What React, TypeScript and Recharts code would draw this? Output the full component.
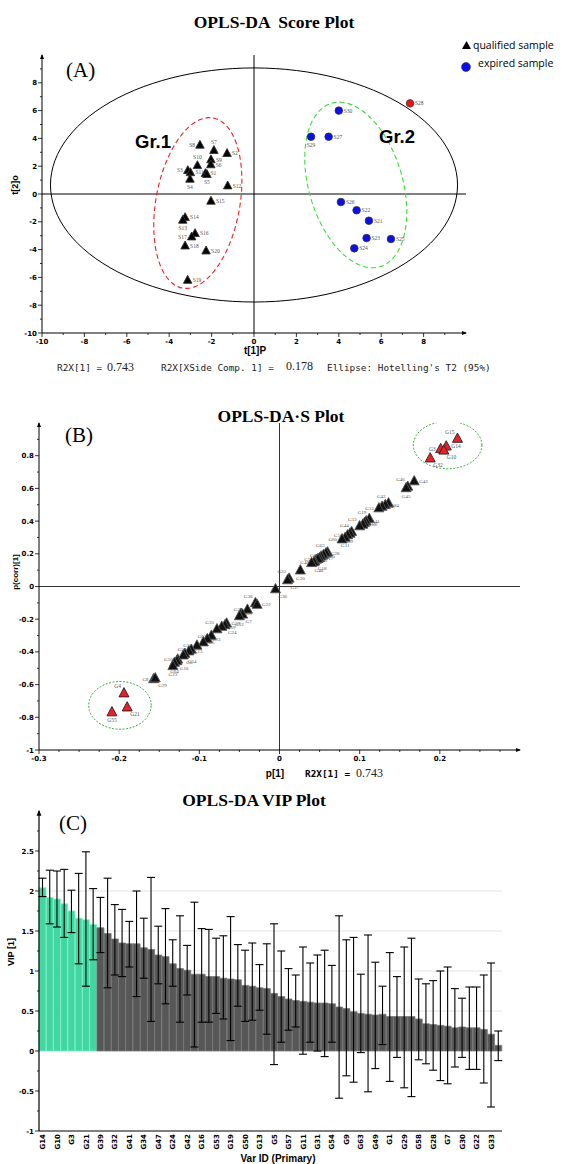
import React from "react";
import {
  ScatterChart,
  Scatter,
  XAxis,
  YAxis,
  ReferenceLine,
  BarChart,
  Bar,
  Cell,
  ErrorBar,
  CartesianGrid,
} from "recharts";

const W = 566;
const H = 1164;
const SERIF = "'Liberation Serif', 'Times New Roman', serif";
const SANS = "'Liberation Sans', Arial, sans-serif";
const TICKF = "'DejaVu Sans', sans-serif";
const MONO = "'DejaVu Sans Mono', monospace";

// ---------- (A) score plot ----------
const qualNames = ["S8", "S7", "S2", "S10", "S9", "S6", "S1", "S3", "S11", "S4", "S5", "S12", "S15", "S14", "S13", "S16", "S17", "S18", "S20", "S19"];
const qualT1 = [-2.55, -1.89, -1.27, -2.67, -2.03, -2.04, -2.29, -3.12, -3.0, -3.02, -2.22, -1.24, -2.03, -3.25, -3.36, -2.78, -2.94, -3.25, -2.26, -3.13];
const qualT2 = [3.53, 3.15, 2.93, 2.06, 2.48, 2.12, 1.49, 1.7, 1.55, 1.08, 1.42, 0.6, -0.5, -1.68, -1.87, -2.83, -3.07, -3.72, -4.08, -6.19];

const expNames = ["S30", "S29", "S27", "S26", "S22", "S21", "S23", "S25", "S24"];
const expT1 = [4.0, 2.69, 3.52, 4.1, 4.84, 5.42, 5.31, 6.46, 4.73];
const expT2 = [6.0, 4.12, 4.12, -0.58, -1.17, -1.92, -3.17, -3.24, -3.91];

const outNames = ["S28"];
const outT1 = [7.36];
const outT2 = [6.52];

const aTicksX = [-10, -9, -8, -7, -6, -5, -4, -3, -2, -1, 0, 1, 2, 3, 4, 5, 6, 7, 8, 9];
const aTicksY = [-10, -9, -8, -7, -6, -5, -4, -3, -2, -1, 0, 1, 2, 3, 4, 5, 6, 7, 8, 9];

// ellipses: centre, first and second semi-axis vectors (data units)
type Ell = { c: [number, number]; a: [number, number]; b: [number, number] };
const hotelling: Ell = { c: [0, 0.65], a: [9.6, 0], b: [0, 8.42] };
const gr1: Ell = { c: [-2.65, -0.65], a: [0.72, 6.12], b: [1.95, -0.53] };
const gr2: Ell = { c: [4.8, 0.65], a: [-1.14, 5.88], b: [2.12, 0.96] };

// ---------- (B) S-plot ----------
const bRedNames = ["G15", "G14", "G3", "G10", "G32", "G4", "G21", "G55"];
const bRedX = [0.222, 0.208, 0.201, 0.205, 0.188, -0.194, -0.19, -0.209];
const bRedY = [0.905, 0.858, 0.842, 0.833, 0.785, -0.652, -0.738, -0.768];

const bNames = ["G43", "G46", "G45", "G42", "G34", "G47", "G51", "G19", "G41", "G37", "G53", "G12", "G44", "G9", "G56", "G11", "G60", "G63", "G28", "G62", "G20", "G17", "G2", "G58", "G18", "G49", "G48", "G30", "G33", "G27", "G36", "G38", "G22", "G26", "G1", "G7", "G52", "G39", "G24", "G59", "G35", "G61", "G31", "G5", "G57", "G25", "G13", "G54", "G6", "G50", "G16", "G64", "G23", "G8", "G29"];
const bX = [0.168, 0.16, 0.158, 0.136, 0.132, 0.128, 0.124, 0.112, 0.108, 0.106, 0.104, 0.1, 0.09, 0.088, 0.085, 0.082, 0.078, 0.06, 0.058, 0.055, 0.052, 0.05, 0.046, 0.048, 0.044, 0.043, 0.04, 0.026, 0.012, 0.01, -0.005, -0.03, -0.028, -0.04, -0.048, -0.046, -0.05, -0.066, -0.068, -0.072, -0.078, -0.085, -0.09, -0.095, -0.103, -0.11, -0.113, -0.118, -0.12, -0.127, -0.128, -0.131, -0.133, -0.157, -0.155];
const bY = [0.645, 0.612, 0.603, 0.51, 0.5, 0.49, 0.48, 0.415, 0.4, 0.39, 0.38, 0.37, 0.335, 0.325, 0.315, 0.3, 0.29, 0.21, 0.205, 0.195, 0.185, 0.175, 0.165, 0.17, 0.155, 0.15, 0.145, 0.1, 0.05, 0.04, -0.015, -0.1, -0.11, -0.14, -0.165, -0.17, -0.18, -0.225, -0.235, -0.245, -0.26, -0.3, -0.32, -0.34, -0.36, -0.385, -0.395, -0.41, -0.42, -0.445, -0.455, -0.465, -0.485, -0.565, -0.56];

const bTicksX = [-0.3, -0.275, -0.25, -0.225, -0.2, -0.175, -0.15, -0.125, -0.1, -0.075, -0.05, -0.025, 0, 0.025, 0.05, 0.075, 0.1, 0.125, 0.15, 0.175, 0.2, 0.225, 0.25, 0.275];
const bTicksY = [-1, -0.9, -0.8, -0.7, -0.6, -0.5, -0.4, -0.3, -0.2, -0.1, 0, 0.1, 0.2, 0.3, 0.4, 0.5, 0.6, 0.7, 0.8, 0.9];

const bTop: Ell = { c: [0.2097, 0.865], a: [0.0428, 0], b: [0, 0.145] };
const bBottom: Ell = { c: [-0.199, -0.727], a: [0.039, 0], b: [0, 0.146] };

// ---------- (C) VIP plot ----------
const vipNames = ["G14", "G15", "G10", "G4", "G3", "G55", "G21", "G8", "G39", "G46", "G32", "G43", "G41", "G45", "G34", "G51", "G47", "G12", "G24", "G44", "G42", "G56", "G16", "G60", "G53", "G2", "G19", "G35", "G50", "G61", "G13", "G25", "G5", "G6", "G57", "G59", "G11", "G64", "G31", "G23", "G54", "G17", "G9", "G18", "G63", "G20", "G49", "G48", "G1", "G26", "G29", "G38", "G58", "G27", "G28", "G36", "G7", "G37", "G30", "G40", "G22", "G52", "G33", "G62"];
const vipValues = [2.04, 1.92, 1.9, 1.84, 1.75, 1.66, 1.64, 1.58, 1.54, 1.47, 1.4, 1.35, 1.34, 1.34, 1.29, 1.27, 1.2, 1.18, 1.09, 1.03, 1.01, 0.96, 0.96, 0.93, 0.93, 0.91, 0.9, 0.89, 0.82, 0.81, 0.79, 0.78, 0.72, 0.68, 0.65, 0.63, 0.62, 0.61, 0.6, 0.6, 0.59, 0.55, 0.53, 0.49, 0.47, 0.46, 0.45, 0.46, 0.43, 0.43, 0.43, 0.43, 0.4, 0.34, 0.33, 0.32, 0.31, 0.29, 0.3, 0.29, 0.29, 0.27, 0.21, 0.07];
const vipLow = [1.93, 1.59, 1.55, 1.42, 1.48, 1.09, 0.81, 1.14, 1.23, 0.79, 0.95, 0.93, 1.05, 0.68, 0.91, 0.37, 0.84, 0.59, 0.81, 0.36, 0.7, 0.05, 0.36, 0.36, 0.47, 0.4, 0.13, 0.56, 0.37, 0.385, 0.51, 0.21, -0.17, 0.11, 0.26, 0.3, -0.04, 0.11, 0.0, -0.07, 0.11, -0.59, -0.31, -0.39, -0.02, -0.51, -0.22, 0.08, -0.38, -0.08, -0.46, -0.57, -0.11, -0.16, -0.24, -0.37, -0.41, -0.2, -0.08, -0.23, -0.23, -0.4, -0.7, -0.12];
const vipHigh = [2.16, 2.26, 2.25, 2.27, 2.01, 2.22, 2.49, 2.03, 1.92, 2.16, 1.83, 1.77, 1.62, 2.0, 1.66, 2.17, 1.56, 1.78, 1.39, 1.69, 1.32, 1.86, 1.53, 1.52, 1.41, 1.44, 1.68, 1.33, 1.26, 1.35, 1.08, 1.34, 1.59, 1.25, 1.03, 0.95, 1.3, 1.1, 1.2, 1.26, 1.07, 1.69, 1.39, 1.42, 0.96, 1.45, 1.11, 0.81, 1.23, 0.93, 1.3, 1.41, 0.9, 0.84, 0.88, 1.0, 1.05, 0.78, 0.66, 0.8, 0.8, 0.95, 1.1, 0.25];
const vipHighlighted = 8;
const cTicksY = [-1, -0.75, -0.5, -0.25, 0, 0.25, 0.5, 0.75, 1, 1.25, 1.5, 1.75, 2, 2.25, 2.5, 2.75];

// ---------- helpers ----------
const toPts = (names: string[], xs: number[], ys: number[]) =>
  names.map((name, i) => ({ name, x: xs[i], y: ys[i] }));

function ellipsePts(e: Ell, n = 120) {
  const pts = [];
  for (let i = 0; i <= n; i++) {
    const t = (2 * Math.PI * i) / n;
    pts.push({
      x: e.c[0] + e.a[0] * Math.cos(t) + e.b[0] * Math.sin(t),
      y: e.c[1] + e.a[1] * Math.cos(t) + e.b[1] * Math.sin(t),
    });
  }
  return pts;
}

const tickStyle = { fontSize: 7, fontWeight: 700, fontFamily: TICKF, fill: "#000" } as const;

const makeTick =
  (dir: "x" | "y", isMajor: (v: number) => boolean, fmt: (v: number) => string) =>
  (p: any) => {
    const v = p.payload.value;
    const m = isMajor(v);
    if (dir === "y") {
      return (
        <g>
          <line x1={p.x - (m ? 4 : 2)} x2={p.x} y1={p.y} y2={p.y} stroke="#000" strokeWidth={0.8} />
          {m && (
            <text x={p.x - 5} y={p.y + 2.5} textAnchor="end" style={tickStyle}>
              {fmt(v)}
            </text>
          )}
        </g>
      );
    }
    return (
      <g>
        <line x1={p.x} x2={p.x} y1={p.y} y2={p.y + (m ? 4 : 2)} stroke="#000" strokeWidth={0.8} />
        {m && (
          <text x={p.x} y={p.y + 11} textAnchor="middle" style={tickStyle}>
            {fmt(v)}
          </text>
        )}
      </g>
    );
  };

const isMult = (step: number) => (v: number) => Math.abs(Math.round(v / step) * step - v) < 1e-6;
const fmtNum = (v: number) => String(Math.round(v * 100) / 100);

function arrowMarker(id: string) {
  return (
    <marker id={id} viewBox="0 0 10 10" refX="8" refY="5" markerWidth="5" markerHeight="7" orient="auto-start-reverse">
      <path d="M0,1 L10,5 L0,9 z" fill="#000" />
    </marker>
  );
}

const noShape = () => <g />;

type Side = "right" | "left" | "below" | "above" | "aboveL" | "belowR";

function ptLabel(name: string, cx: number, cy: number, side: Side, fs: number) {
  let x = cx + 5;
  let y = cy + 2;
  let anchor: "start" | "end" | "middle" = "start";
  if (side === "left") { x = cx - 5; anchor = "end"; }
  if (side === "below") { x = cx; y = cy + 10; anchor = "middle"; }
  if (side === "above") { x = cx; y = cy - 6; anchor = "middle"; }
  if (side === "aboveL") { x = cx - 3; y = cy - 5; anchor = "end"; }
  if (side === "belowR") { x = cx + 3; y = cy + 9; anchor = "start"; }
  return (
    <text x={x} y={y} textAnchor={anchor} fontSize={fs} fontFamily={SERIF} fill="#555">
      {name}
    </text>
  );
}

const pointShape =
  (kind: "tri" | "dot", fill: string, stroke: string, size: number, sides: Record<string, Side>, fs: number) =>
  (p: any) => {
    const { cx, cy, payload } = p;
    if (cx == null || cy == null) return <g />;
    const side = sides[payload.name] || "right";
    const mark =
      kind === "tri" ? (
        <path
          d={`M${cx},${cy - size * 0.55}L${cx + size / 2},${cy + size * 0.38}L${cx - size / 2},${cy + size * 0.38}Z`}
          fill={fill}
          stroke={stroke}
          strokeWidth={0.9}
          strokeLinejoin="round"
        />
      ) : (
        <circle cx={cx} cy={cy} r={size / 2} fill={fill} stroke={stroke} strokeWidth={0.8} />
      );
    return (
      <g>
        {mark}
        {ptLabel(payload.name, cx, cy, side, fs)}
      </g>
    );
  };

const aSides: Record<string, Side> = {
  S8: "left", S7: "above", S10: "above", S3: "left", S4: "below", S5: "below", S13: "below", S17: "left", S29: "below",
};
const bSides: Record<string, Side> = {
  G15: "aboveL", G3: "left", G10: "belowR", G32: "belowR", G46: "aboveL", G45: "below", G42: "aboveL", G51: "left",
  G12: "aboveL", G19: "aboveL", G44: "aboveL", G56: "left", G60: "left", G63: "aboveL", G62: "left", G58: "left",
  G49: "left", G33: "aboveL", G30: "below", G27: "belowR", G36: "belowR", G38: "aboveL", G26: "left", G35: "aboveL",
  G61: "left", G57: "left", G25: "left", G50: "left", G23: "below", G8: "left", G29: "belowR", G4: "aboveL",
  G21: "belowR", G55: "below", G9: "below", G11: "below", G24: "belowR", G48: "belowR", G18: "belowR",
  G7: "belowR", G52: "below", G16: "belowR", G64: "below", G54: "belowR", G6: "belowR",
};

// ---------- panels ----------
function ScorePlot() {
  return (
    <ScatterChart width={W} height={380} margin={{ top: 55, right: 100, bottom: 0, left: 0 }}>
      <defs>{arrowMarker("arrA")}</defs>
      <XAxis
        type="number"
        dataKey="x"
        domain={[-10, 10]}
        ticks={aTicksX}
        interval={0}
        allowDataOverflow
        height={47}
        tickSize={0}
        tickMargin={0}
        tickLine={false}
        tick={makeTick("x", isMult(2), fmtNum)}
        axisLine={{ stroke: "#000", strokeWidth: 1, markerEnd: "url(#arrA)" }}
      />
      <YAxis
        type="number"
        dataKey="y"
        domain={[-10, 10]}
        ticks={aTicksY}
        interval={0}
        allowDataOverflow
        width={42}
        tickSize={0}
        tickMargin={0}
        tickLine={false}
        tick={makeTick("y", isMult(2), fmtNum)}
        axisLine={{ stroke: "#000", strokeWidth: 1, markerStart: "url(#arrA)" }}
      />
      <ReferenceLine x={0} stroke="#000" strokeWidth={1} />
      <ReferenceLine y={0} stroke="#000" strokeWidth={1} />
      <Scatter data={ellipsePts(hotelling)} line={{ stroke: "#000", strokeWidth: 1 }} lineType="joint" shape={noShape} isAnimationActive={false} />
      <Scatter data={ellipsePts(gr1)} line={{ stroke: "#e82323", strokeWidth: 1.1, strokeDasharray: "5 3" }} lineType="joint" shape={noShape} isAnimationActive={false} />
      <Scatter data={ellipsePts(gr2)} line={{ stroke: "#3ddc3d", strokeWidth: 1.1, strokeDasharray: "5 3" }} lineType="joint" shape={noShape} isAnimationActive={false} />
      <Scatter data={toPts(qualNames, qualT1, qualT2)} shape={pointShape("tri", "#000", "#333", 8.5, aSides, 5.5)} isAnimationActive={false} />
      <Scatter data={toPts(expNames, expT1, expT2)} shape={pointShape("dot", "#0a10e6", "#333", 7.6, aSides, 5.5)} isAnimationActive={false} />
      <Scatter data={toPts(outNames, outT1, outT2)} shape={pointShape("dot", "#f01010", "#444", 7.6, aSides, 5.5)} isAnimationActive={false} />
    </ScatterChart>
  );
}

function SPlot() {
  return (
    <ScatterChart width={W} height={400} margin={{ top: 33, right: 46, bottom: 0, left: 0 }}>
      <defs>{arrowMarker("arrB")}</defs>
      <XAxis
        type="number"
        dataKey="x"
        domain={[-0.3, 0.3]}
        ticks={bTicksX}
        interval={0}
        allowDataOverflow
        height={40}
        tickSize={0}
        tickMargin={0}
        tickLine={false}
        tick={makeTick("x", isMult(0.1), fmtNum)}
        axisLine={{ stroke: "#000", strokeWidth: 1, markerEnd: "url(#arrB)" }}
      />
      <YAxis
        type="number"
        dataKey="y"
        domain={[-1, 1]}
        ticks={bTicksY}
        interval={0}
        allowDataOverflow
        width={39}
        tickSize={0}
        tickMargin={0}
        tickLine={false}
        tick={makeTick("y", isMult(0.2), fmtNum)}
        axisLine={{ stroke: "#000", strokeWidth: 1, markerStart: "url(#arrB)" }}
      />
      <ReferenceLine x={0} stroke="#333" strokeWidth={1} />
      <ReferenceLine y={0} stroke="#333" strokeWidth={1} />
      <Scatter data={ellipsePts(bTop)} line={{ stroke: "#3aa83a", strokeWidth: 1, strokeDasharray: "2 1.5" }} lineType="joint" shape={noShape} isAnimationActive={false} />
      <Scatter data={ellipsePts(bBottom)} line={{ stroke: "#3aa83a", strokeWidth: 1, strokeDasharray: "2 1.5" }} lineType="joint" shape={noShape} isAnimationActive={false} />
      <Scatter data={toPts(bNames, bX, bY)} shape={pointShape("tri", "#111", "#555", 10, bSides, 5)} isAnimationActive={false} />
      <Scatter data={toPts(bRedNames, bRedX, bRedY)} shape={pointShape("tri", "#e8202a", "#222", 10, bSides, 5.5)} isAnimationActive={false} />
    </ScatterChart>
  );
}

const vipData = vipNames.map((name, i) => ({
  name,
  vip: vipValues[i],
  err: [vipValues[i] - vipLow[i], vipHigh[i] - vipValues[i]],
}));

const VipXTick = (p: any) => (
  <text
    transform={`translate(${p.x},${p.y + 3}) rotate(-90)`}
    textAnchor="end"
    dy={2.5}
    style={tickStyle}
  >
    {p.payload.value}
  </text>
);

function VipPlot() {
  return (
    <BarChart width={W} height={384} data={vipData} margin={{ top: 31, right: 64, bottom: 0, left: 0 }} barCategoryGap={0} barGap={0}>
      <defs>{arrowMarker("arrC")}</defs>
      <CartesianGrid vertical={false} horizontalValues={[0.5, 1, 1.5, 2]} stroke="#e4e4e4" strokeWidth={1.2} />
      <XAxis
        dataKey="name"
        interval={1}
        height={33}
        tickSize={0}
        tickMargin={0}
        tickLine={false}
        tick={VipXTick}
        axisLine={{ stroke: "#000", strokeWidth: 1.2 }}
      />
      <YAxis
        type="number"
        domain={[-1, 3]}
        ticks={cTicksY}
        interval={0}
        allowDataOverflow
        width={39}
        tickSize={0}
        tickMargin={0}
        tickLine={false}
        tick={makeTick("y", isMult(0.5), fmtNum)}
        axisLine={{ stroke: "#000", strokeWidth: 1.2, markerStart: "url(#arrC)" }}
      />
      <Bar dataKey="vip" isAnimationActive={false}>
        {vipData.map((d, i) => (
          <Cell
            key={d.name}
            fill={i < vipHighlighted ? "#41d6a2" : "#575757"}
            stroke={i < vipHighlighted ? "#7ff0c8" : "#767676"}
            strokeWidth={0.8}
          />
        ))}
        <ErrorBar dataKey="err" width={4} stroke="#000" strokeWidth={1.1} direction="y" />
      </Bar>
    </BarChart>
  );
}

function Annotations() {
  const title = { fontFamily: SERIF, fontWeight: 700, fontSize: 17.5, fill: "#000", whiteSpace: "pre" } as const;
  const panel = { fontFamily: SERIF, fontSize: 21, fill: "#000" } as const;
  const axis = { fontFamily: SANS, fontWeight: 700, fontSize: 10, fill: "#000" } as const;
  const mono = { fontFamily: MONO, fontSize: 9.4, fill: "#222", whiteSpace: "pre" } as const;
  const num = { fontFamily: SERIF, fontSize: 12, fill: "#222" } as const;
  const grp = { fontFamily: SANS, fontWeight: 700, fontSize: 18.5, fill: "#000" } as const;
  const leg = { fontFamily: "'Open Sans', sans-serif", fontSize: 10.5, fill: "#000" } as const;
  return (
    <svg width={W} height={H} style={{ position: "absolute", left: 0, top: 0, pointerEvents: "none" }}>
      {/* (A) */}
      <text x={274} y={28} textAnchor="middle" style={title}>OPLS-DA  Score Plot</text>
      <text x={66} y={77} style={panel}>(A)</text>
      <text x={135} y={148} style={grp}>Gr.1</text>
      <text x={379} y={143} style={grp}>Gr.2</text>
      <path d="M462,49L466.5,41L471,49Z" fill="#000" />
      <text x={473} y={49} style={leg}>qualified sample</text>
      <circle cx={466} cy={67} r={4.5} fill="#0a10e6" stroke="#334" strokeWidth={0.6} />
      <text x={478} y={67} style={leg}>expired sample</text>
      <text transform="translate(18,185) rotate(-90)" textAnchor="middle" style={{ ...axis, fontSize: 9 }}>t[2]o</text>
      <text x={255} y={354} textAnchor="middle" style={axis}>t[1]P</text>
      <text x={57} y={371} style={mono}>R2X[1] =</text>
      <text x={107} y={371} style={num}>0.743</text>
      <text x={161} y={371} style={mono}>R2X[XSide Comp. 1] = </text>
      <text x={286} y={370} style={num}>0.178</text>
      <text x={327} y={371} style={mono}>Ellipse: Hotelling's T2 (95%)</text>

      {/* (B) */}
      <text x={281} y={422} textAnchor="middle" style={title}>OPLS-DA·S Plot</text>
      <text x={65} y={442} style={panel}>(B)</text>
      <text transform="translate(18,572) rotate(-90)" textAnchor="middle" style={{ ...axis, fontSize: 8 }}>p(corr)[1]</text>
      <text x={275} y={777} textAnchor="middle" style={axis}>p[1]</text>
      <text x={305} y={777} style={{ ...mono, fontWeight: 700, fill: "#000" }}>R2X[1] = </text>
      <text x={356} y={777} style={num}>0.743</text>

      {/* (C) */}
      <text x={254} y={806} textAnchor="middle" style={title}>OPLS-DA VIP Plot</text>
      <text x={59} y={830} style={panel}>(C)</text>
      <text transform="translate(14,952) rotate(-90)" textAnchor="middle" style={{ ...axis, fontSize: 9 }}>VIP [1]</text>
      <text x={278} y={1162} textAnchor="middle" style={axis}>Var ID (Primary)</text>
    </svg>
  );
}

export default function App() {
  return (
    <div style={{ position: "absolute", left: 0, top: 0, width: W, height: H, background: "#fff", overflow: "hidden" }}>
      <div style={{ position: "absolute", left: 0, top: 0 }}>
        <ScorePlot />
      </div>
      <div style={{ position: "absolute", left: 0, top: 390 }}>
        <SPlot />
      </div>
      <div style={{ position: "absolute", left: 0, top: 780 }}>
        <VipPlot />
      </div>
      <Annotations />
    </div>
  );
}
